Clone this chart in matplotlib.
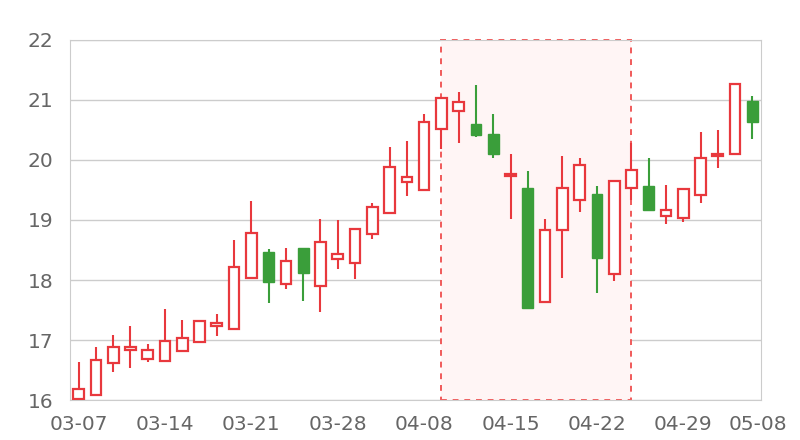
import matplotlib
matplotlib.use('Agg')
import matplotlib.pyplot as plt
import matplotlib.transforms as mtransforms
from matplotlib.patches import Rectangle

dates = ['03-07', '03-08', '03-09', '03-10', '03-11', '03-14', '03-15', '03-16', '03-17', '03-18',
         '03-21', '03-22', '03-23', '03-24', '03-25', '03-28', '03-29', '03-30', '03-31', '04-01',
         '04-08', '04-11', '04-12', '04-13', '04-14', '04-15', '04-18', '04-19', '04-20', '04-21',
         '04-22', '04-25', '04-26', '04-27', '04-28', '04-29', '05-03', '05-04', '05-05', '05-08']
opens = [16.02, 16.09, 16.61, 16.84, 16.69, 16.65, 16.82, 16.97, 17.23, 17.19,
         18.04, 18.46, 17.93, 18.53, 17.90, 18.35, 18.29, 18.76, 19.12, 19.63,
         19.50, 20.52, 20.82, 20.60, 20.43, 19.73, 19.54, 17.64, 18.83, 19.33,
         19.43, 18.10, 19.53, 19.56, 19.07, 19.03, 19.41, 20.06, 20.10, 20.98]
closes = [16.19, 16.67, 16.89, 16.88, 16.83, 16.99, 17.03, 17.31, 17.29, 18.21,
          18.78, 17.96, 18.32, 18.11, 18.63, 18.43, 18.85, 19.22, 19.88, 19.72,
          20.63, 21.03, 20.97, 20.42, 20.10, 19.76, 17.53, 18.83, 19.54, 19.91,
          18.36, 19.65, 19.83, 19.17, 19.16, 19.51, 20.04, 20.10, 21.27, 20.64]
highs = [16.64, 16.88, 17.08, 17.24, 16.94, 17.51, 17.34, 17.34, 17.44, 18.67,
         19.31, 18.51, 18.54, 18.53, 19.01, 19.00, 18.85, 19.29, 20.22, 20.32,
         20.77, 21.03, 21.14, 21.25, 20.76, 20.10, 19.81, 19.01, 20.07, 20.04,
         19.57, 19.65, 20.28, 20.03, 19.58, 19.51, 20.47, 20.50, 21.29, 21.07]
lows = [16.02, 16.09, 16.47, 16.53, 16.64, 16.65, 16.82, 16.96, 17.06, 17.19,
        18.04, 17.61, 17.85, 17.65, 17.46, 18.18, 18.01, 18.69, 19.12, 19.40,
        19.50, 20.18, 20.28, 20.39, 20.03, 19.02, 17.53, 17.64, 18.04, 19.13,
        17.79, 17.98, 19.33, 19.17, 18.94, 18.96, 19.28, 19.86, 20.10, 20.35]
label_idx = [0, 5, 10, 15, 20, 25, 30, 35, 39]
area_start, area_end = '04-11', '04-26'

up_color = '#e8383d'
down_color = '#3a9e3a'
grid_color = '#cccccc'
text_color = '#666666'

fig = plt.figure(figsize=(8, 4.4), dpi=100)
ax = fig.add_axes([0.0875, 0.0909, 0.86375, 0.8182])

x = list(range(len(dates)))
w = 0.62
for i in x:
    o, c, h, l = opens[i], closes[i], highs[i], lows[i]
    if c >= o:
        col = up_color
        ax.vlines(i, l, h, color=col, lw=1.5, zorder=3)
        ax.add_patch(Rectangle((i - w / 2, o), w, max(c - o, 0.02), facecolor='white',
                               edgecolor=col, lw=1.6, zorder=4))
    else:
        col = down_color
        ax.vlines(i, l, h, color=col, lw=1.5, zorder=3)
        ax.add_patch(Rectangle((i - w / 2, c), w, o - c, facecolor=col,
                               edgecolor=col, lw=1.0, zorder=4))

# highlighted area
a0, a1 = dates.index(area_start), dates.index(area_end)
ax.add_patch(Rectangle((a0, 16), a1 - a0, 6, facecolor='#fff5f5', edgecolor='#f05a5a',
                       lw=1.4, linestyle=(0, (3, 3)), zorder=1, clip_on=False))

ax.set_xlim(-0.5, len(dates) - 0.5)
ax.set_ylim(16, 22)
ax.set_yticks(range(16, 23))
ax.set_xticks(label_idx)
ax.set_xticklabels([dates[i] for i in label_idx])
ax.yaxis.grid(True, color=grid_color, lw=1)
ax.set_axisbelow(True)
for s in ax.spines.values():
    s.set_color(grid_color)
ax.tick_params(length=0, labelsize=14.5, colors=text_color)
ax.tick_params(axis='y', pad=12)
ax.tick_params(axis='x', pad=11)

# last label sits a bit to the right so it does not touch its neighbour
last = ax.get_xticklabels()[-1]
last.set_transform(last.get_transform() + mtransforms.ScaledTranslation(6 / 100, 0, fig.dpi_scale_trans))

fig.savefig('out.png', dpi=100)
